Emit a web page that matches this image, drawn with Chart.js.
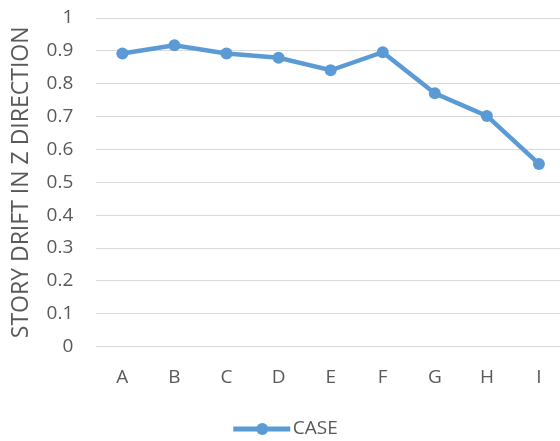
<!DOCTYPE html>
<html>
<head>
<meta charset="utf-8">
<script src="https://cdn.jsdelivr.net/npm/chart.js@4"></script>
<style>
  html, body { margin: 0; padding: 0; background: #fff; overflow: hidden; }
  #wrap { width: 560px; height: 441px; overflow: hidden; }
</style>
</head>
<body>
<div id="wrap"><canvas id="chart" width="565" height="441"></canvas></div>
<script>
const categories = ['A', 'B', 'C', 'D', 'E', 'F', 'G', 'H', 'I'];
const caseValues = [0.892, 0.917, 0.892, 0.879, 0.841, 0.896, 0.771, 0.702, 0.556];
const yTicks = [0, 0.1, 0.2, 0.3, 0.4, 0.5, 0.6, 0.7, 0.8, 0.9, 1];

const lineColor = '#5B9BD5';
const textColor = '#595959';
const fontFamily = "'Open Sans', 'Liberation Sans', sans-serif";

// legend marker: a thick line with a round dot, like the spreadsheet legend
const legendMarker = {
  id: 'legendMarker',
  afterDraw(chart) {
    const boxes = chart.legend.legendHitBoxes;
    if (!boxes || !boxes.length) return;
    const ctx = chart.ctx;
    const b = boxes[0];
    const cy = b.top + b.height / 2;
    ctx.save();
    ctx.strokeStyle = lineColor;
    ctx.lineWidth = 5;
    ctx.beginPath();
    ctx.moveTo(b.left - 2, cy);
    ctx.lineTo(b.left + 55, cy);
    ctx.stroke();
    ctx.fillStyle = lineColor;
    ctx.beginPath();
    ctx.arc(b.left + 27, cy, 6, 0, Math.PI * 2);
    ctx.fill();
    ctx.restore();
  }
};

new Chart(document.getElementById('chart').getContext('2d'), {
  type: 'line',
  data: {
    labels: categories,
    datasets: [{
      label: 'CASE',
      data: caseValues,
      borderColor: lineColor,
      backgroundColor: lineColor,
      borderWidth: 4.5,
      pointRadius: 6,
      pointBackgroundColor: lineColor,
      pointBorderWidth: 0,
      tension: 0
    }]
  },
  options: {
    responsive: false,
    animation: false,
    layout: { autoPadding: false, padding: { top: 18, left: 8, right: 0, bottom: -7.5 } },
    scales: {
      x: {
        offset: true,
        grid: { display: false, drawTicks: false },
        border: { display: false },
        ticks: { color: textColor, font: { family: fontFamily, size: 19 }, padding: 19.5 }
      },
      y: {
        min: 0,
        max: 1,
        afterBuildTicks(axis) { axis.ticks = yTicks.map(v => ({ value: v })); },
        // tick padding would otherwise also push the plot down from the top
        afterFit(axis) { axis.paddingTop = 0; axis.paddingBottom = 0; },
        grid: { color: '#d9d9d9', lineWidth: 1, drawTicks: false },
        border: { display: false },
        ticks: {
          color: textColor,
          font: { family: fontFamily, size: 19 },
          padding: 23,
          callback: v => String(v)
        },
        title: {
          display: true,
          text: 'STORY DRIFT IN Z DIRECTION',
          color: textColor,
          font: { family: fontFamily, size: 23 },
          padding: { top: 0, bottom: -12 }
        }
      }
    },
    plugins: {
      legend: {
        position: 'bottom',
        labels: {
          color: textColor,
          font: { family: fontFamily, size: 19 },
          boxWidth: 48,
          boxHeight: 5,
          padding: 11,
          generateLabels: chart => chart.data.datasets.map((ds, i) => ({
            text: ds.label,
            fillStyle: 'rgba(0,0,0,0)',
            strokeStyle: 'rgba(0,0,0,0)',
            lineWidth: 0,
            fontColor: textColor,
            datasetIndex: i
          }))
        }
      },
      tooltip: { enabled: false }
    }
  },
  plugins: [legendMarker]
});
</script>
</body>
</html>
